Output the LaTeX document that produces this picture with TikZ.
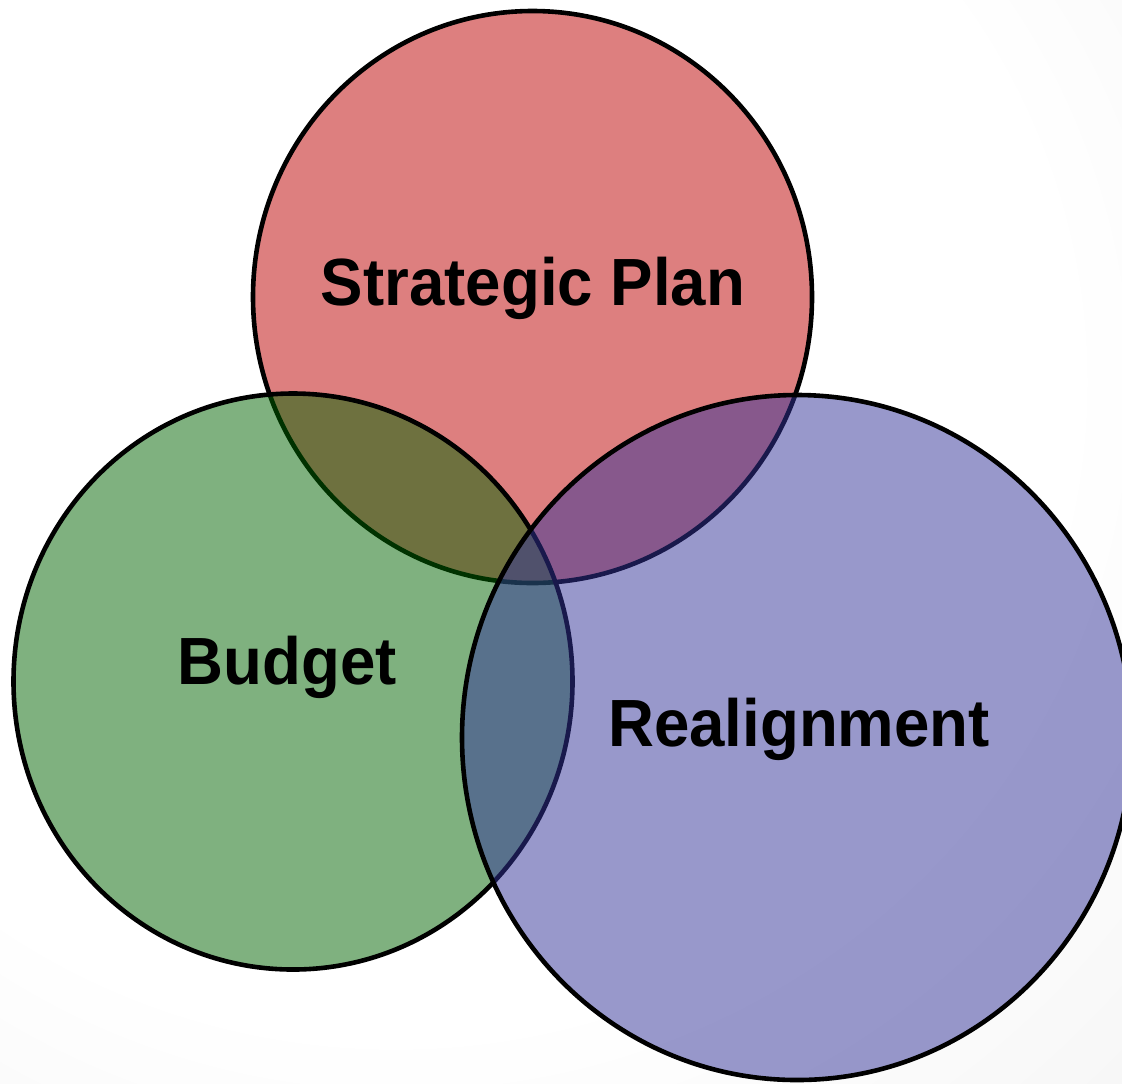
\documentclass[tikz,border=0pt]{standalone}
\usepackage{fontspec}
\setmainfont{Liberation Sans}
\usepackage{graphicx}
\definecolor{cRed}{RGB}{189,0,0}
\definecolor{cGreen}{RGB}{0,100,0}
\definecolor{cBlue}{RGB}{51,51,153}
\pgfdeclareradialshading{bgshade}{\pgfpoint{-12bp}{12bp}}{%
  color(0bp)=(white); color(30bp)=(white); color(55bp)=(black!6); color(80bp)=(black!14)}
\newcommand{\vstretch}[1]{\scalebox{1}[1.05]{#1}}
\tikzset{
  venn/.style={line width=2.3pt, draw=black, fill opacity=0.5},
  lbl/.style={font=\fontsize{31.8pt}{36pt}\selectfont\bfseries, text=black, anchor=base, inner sep=0pt}
}
\begin{document}
\begin{tikzpicture}[x=0.5pt, y=-0.5pt]
\useasboundingbox (0,0) rectangle (1122,1083);
\shade[shading=bgshade] (0,0) rectangle (1122,1083);
\clip (0,0) rectangle (1122,1083);
% circles, drawn in order red, green, blue
\path[venn, fill=cRed] (532.5,297) ellipse [x radius=279.5, y radius=286];
\path[venn, fill=cGreen] (293,681.5) ellipse [x radius=279.5, y radius=288];
\path[venn, fill=cBlue] (797,737.5) ellipse [x radius=335, y radius=342.5];
% labels
\node[lbl] (strat) at (533,305) {\vstretch{Strategic Plan}};
\node[lbl] (budget) at (287.5,684) {\vstretch{Budget}};
\node[lbl] (realign) at (799,746) {\vstretch{Realignment}};
\end{tikzpicture}
\end{document}
